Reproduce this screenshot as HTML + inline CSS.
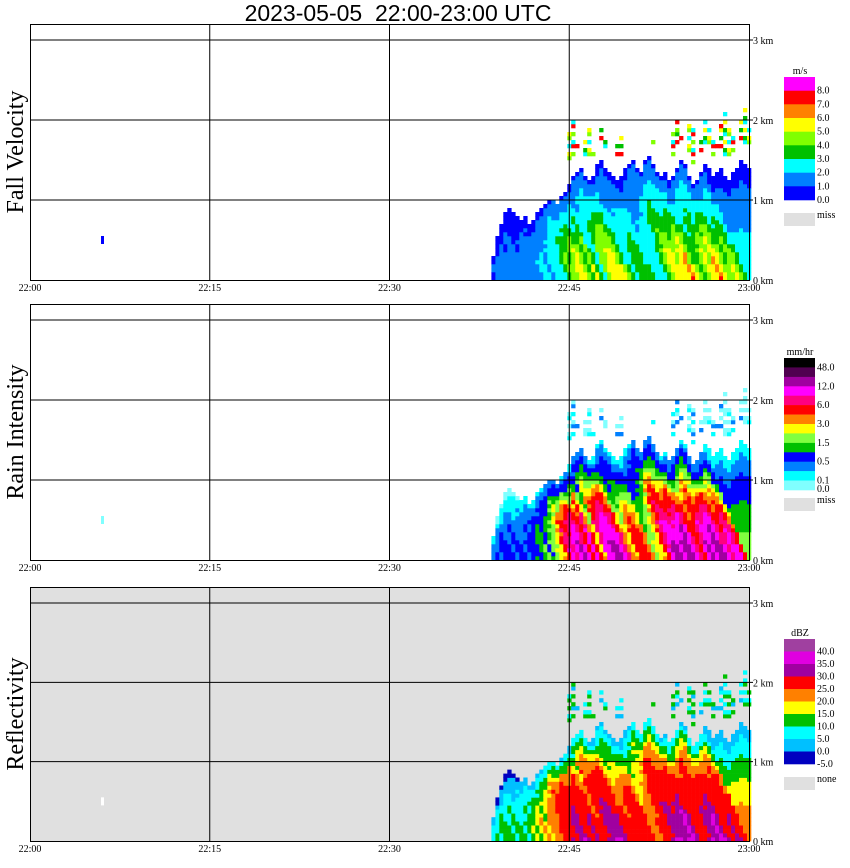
<!DOCTYPE html>
<html><head><meta charset="utf-8"><style>
html,body{margin:0;padding:0;background:#fff;width:850px;height:868px;overflow:hidden}
svg text{font-family:"Liberation Serif",serif}
</style></head><body>
<svg id="chart" width="850" height="868" xmlns="http://www.w3.org/2000/svg">
<text x="398" y="21" text-anchor="middle" font-size="23" style="font-family:'Liberation Sans',sans-serif;white-space:pre" xml:space="preserve">2023-05-05  22:00-23:00 UTC</text>
</svg>
<script>
// minutes after 22:00 for each data column (every 20 s)
const startMin = 38.5;
const stepMin = 1/3;
const strength = [0.2,0.3,0.25,0.3,0.35,0.3,0.25,0.35,0.3,0.25,0.3,0.4,0.35,0.45,0.5,0.4,0.5,0.55,0.6,0.7,0.85,0.8,0.9,0.95,0.85,0.75,0.9,0.7,0.6,0.85,0.9,0.95,0.95,0.9,0.8,0.65,0.6,0.7,0.75,0.7,0.65,0.5,0.55,0.6,0.7,0.85,0.95,0.95,0.9,0.95,1.0,0.9,0.8,0.75,0.85,0.95,0.9,1.0,0.95,0.85,0.8,0.9,0.85,0.7,0.5];
const echoTop = [0.3,0.5,0.7,0.85,0.9,0.85,0.8,0.75,0.8,0.7,0.75,0.85,0.9,0.95,1.0,1.0,0.95,1.05,1.1,1.2,1.3,1.35,1.4,1.3,1.25,1.3,1.45,1.5,1.4,1.35,1.3,1.25,1.3,1.4,1.45,1.5,1.4,1.35,1.5,1.55,1.45,1.35,1.3,1.35,1.25,1.3,1.4,1.5,1.45,1.3,1.2,1.25,1.35,1.45,1.4,1.3,1.35,1.4,1.3,1.25,1.35,1.4,1.5,1.45,1.4];
const cloudTop = [0,0,0,0,0,0,0,0,0,0,0,0,0,0,0,0,0,0,0,1.9,2.0,1.7,0,1.8,1.9,1.6,0,1.9,1.8,1.6,0,1.7,1.8,0,0,1.6,1.7,0,0,1.7,1.8,0,0,1.6,0,1.9,2.0,1.8,1.7,2.0,1.9,0,1.8,2.0,1.9,1.8,1.7,2.0,2.1,1.9,1.8,0,2.0,2.1,1.9];
const timeTicks = ["22:00","22:15","22:30","22:45","23:00"];
const heightTicks = ["0 km","1 km","2 km","3 km"];
const velLabels = ["8.0","7.0","6.0","5.0","4.0","3.0","2.0","1.0","0.0"];
const rainLabels = ["48.0","12.0","6.0","3.0","1.5","0.5","0.1","0.0"];
const dbzLabels = ["40.0","35.0","30.0","25.0","20.0","15.0","10.0","5.0","0.0","-5.0"];

const NS="http://www.w3.org/2000/svg";
const svg=document.getElementById('chart');
function mk(tag,attrs,parent){const e=document.createElementNS(NS,tag);for(const k in attrs)e.setAttribute(k,attrs[k]);(parent||svg).appendChild(e);return e;}

const X0=30,X1=749;
function xScale(min){return X0+(X1-X0)*min/60;}
const panels=[
 {name:'fall-velocity',title:'Fall Velocity',top:24,base:280,bg:'#fff',
  colors:['#ff00ff','#ff0000','#ff8000','#ffff00','#80ff00','#00c000','#00ffff','#0080ff','#0000ff'],labels:velLabels,unit:'m/s',cbTop:77,miss:'miss',missY:213,
  color:v=>{const s=v*0.7;return s<0.15?'#0000ff':s<0.3?'#0080ff':s<0.45?'#00ffff':s<0.55?'#00c000':s<0.62?'#80ff00':s<0.67?'#ffff00':s<0.7?'#ff8000':'#ff0000';},
  cloud:['#00c000','#80ff00','#ffff00','#ff0000','#00ffff']},
 {name:'rain-intensity',title:'Rain Intensity',top:304,base:560,bg:'#fff',
  colors:['#000000','#500050','#a000a0','#ff00ff','#ff0080','#ff0000','#ff8000','#ffff00','#80ff40','#00c000','#0000ff','#0080ff','#00ffff','#80ffff'],labels:rainLabels,unit:'mm/hr',cbTop:358,miss:'miss',missY:498,
  color:v=>v<0.1?'#80ffff':v<0.18?'#00ffff':v<0.28?'#0080ff':v<0.4?'#0000ff':v<0.48?'#00c000':v<0.54?'#80ff40':v<0.6?'#ffff00':v<0.66?'#ff8000':v<0.76?'#ff0000':v<0.84?'#ff0080':v<0.93?'#ff00ff':'#a000a0',
  cloud:['#80ffff','#00ffff','#80ffff','#0080ff','#80ffff']},
 {name:'reflectivity',title:'Reflectivity',top:587,base:841,bg:'#e0e0e0',
  colors:['#a040a0','#e000e0','#a000a0','#ff0000','#ff8000','#ffff00','#00c000','#00ffff','#00c0ff','#0000c0'],labels:dbzLabels,unit:'dBZ',cbTop:639,miss:'none',missY:777,
  color:v=>v<0.1?'#0000c0':v<0.18?'#00c0ff':v<0.28?'#00ffff':v<0.38?'#00c000':v<0.46?'#ffff00':v<0.58?'#ff8000':v<0.85?'#ff0000':v<0.95?'#a000a0':'#e000e0',
  cloud:['#00ffff','#00c000','#00ffff','#00c0ff','#00c000']}
];

panels.forEach((p,pi)=>{
  const g=mk('g',{});
  
  
  const kmPx=(p.base-p.top-16)/3;
  const yScale=h=>p.base-h*kmPx;
  const bg=mk('rect',{x:X0,y:p.top,width:X1-X0,height:p.base-p.top,fill:p.bg},g);
  
  
  const cells=mk('g',{},g);
  
  
  const cw=xScale(stepMin)-xScale(0);
  const dh=0.05;
  for(let i=0;i<strength.length;i++){
    const x=xScale(startMin+i*stepMin);
    const top=echoTop[i];
    for(let h=0;h<top;h+=dh){
      let j=Math.min(strength.length-1,Math.max(0,i+Math.round(h*8)));
      const f=h/top;
      const v=strength[j]*(1-f*f*0.85);
      const r=mk('rect',{x:x.toFixed(1),y:(yScale(h+dh)).toFixed(1),width:(cw+0.3).toFixed(1),height:(dh*kmPx+0.3).toFixed(1),fill:p.color(v)},cells);
      
      
    }
    if(cloudTop[i]>0){
      let k=0;
      for(let h=top+0.25;h<cloudTop[i];h+=dh){
        k++;
        if((i*7+k*3)%5<2) continue;
        const r=mk('rect',{x:x.toFixed(1),y:(yScale(h+dh)).toFixed(1),width:(cw+0.3).toFixed(1),height:(dh*kmPx+0.3).toFixed(1),fill:p.cloud[(i+k)%5]},cells);
        
        
      }
    }
  }
  const blip=mk('rect',{x:101,y:yScale(0.55),width:3,height:8,fill:pi===0?'#0000ff':pi===1?'#80ffff':'#ffffff'},g);
  
  
  for(let t=1;t<4;t++){
    const l=mk('line',{x1:xScale(t*15),x2:xScale(t*15),y1:p.top,y2:p.base,stroke:'#000','stroke-width':1},g);
    
    
  }
  heightTicks.forEach((lab,k)=>{
    const y=yScale(k);
    if(k>0){const l=mk('line',{x1:X0,x2:X1+4,y1:y,y2:y,stroke:'#000','stroke-width':1},g);
      
      }
    const t=mk('text',{x:753,y:y+4,'font-size':10},g);t.textContent=lab;
    
    
  });
  const fr=mk('rect',{x:X0+0.5,y:p.top+0.5,width:X1-X0,height:p.base-p.top,fill:'none',stroke:'#000'},g);
  
  
  timeTicks.forEach((lab,k)=>{
    const t=mk('text',{x:xScale(k*15),y:p.base+11,'font-size':10,'text-anchor':'middle'},g);t.textContent=lab;
    
    
  });
  const yt=mk('text',{x:0,y:0,'font-size':24,'text-anchor':'middle',transform:`translate(23,${(p.top+p.base)/2}) rotate(-90)`},g);
  yt.textContent=p.title;
  
  
  const cbH=(pi===0?123:pi===1?132:125)/p.colors.length;
  const ut=mk('text',{x:800,y:p.cbTop-3,'font-size':10,'text-anchor':'middle'},g);ut.textContent=p.unit;
  
  
  p.colors.forEach((c,k)=>{
    const r=mk('rect',{x:784,y:(p.cbTop+k*cbH).toFixed(1),width:31,height:(cbH+0.3).toFixed(1),fill:c},g);
    
    
  });
  p.labels.forEach((lab,k)=>{
    let yy;
    if(pi===1){const pos=[1,3,5,7,9,11,13,13.9];yy=p.cbTop+pos[k]*cbH;}
    else yy=p.cbTop+(k+1)*cbH;
    const t=mk('text',{x:817,y:(yy+3).toFixed(1),'font-size':10},g);t.textContent=lab;
    
    
  });
  const mr=mk('rect',{x:784,y:p.missY,width:31,height:13,fill:'#e0e0e0'},g);
  
  
  const mt=mk('text',{x:817,y:p.missY+5,'font-size':10},g);mt.textContent=p.miss;
  
  
});
</script>
</body></html>
